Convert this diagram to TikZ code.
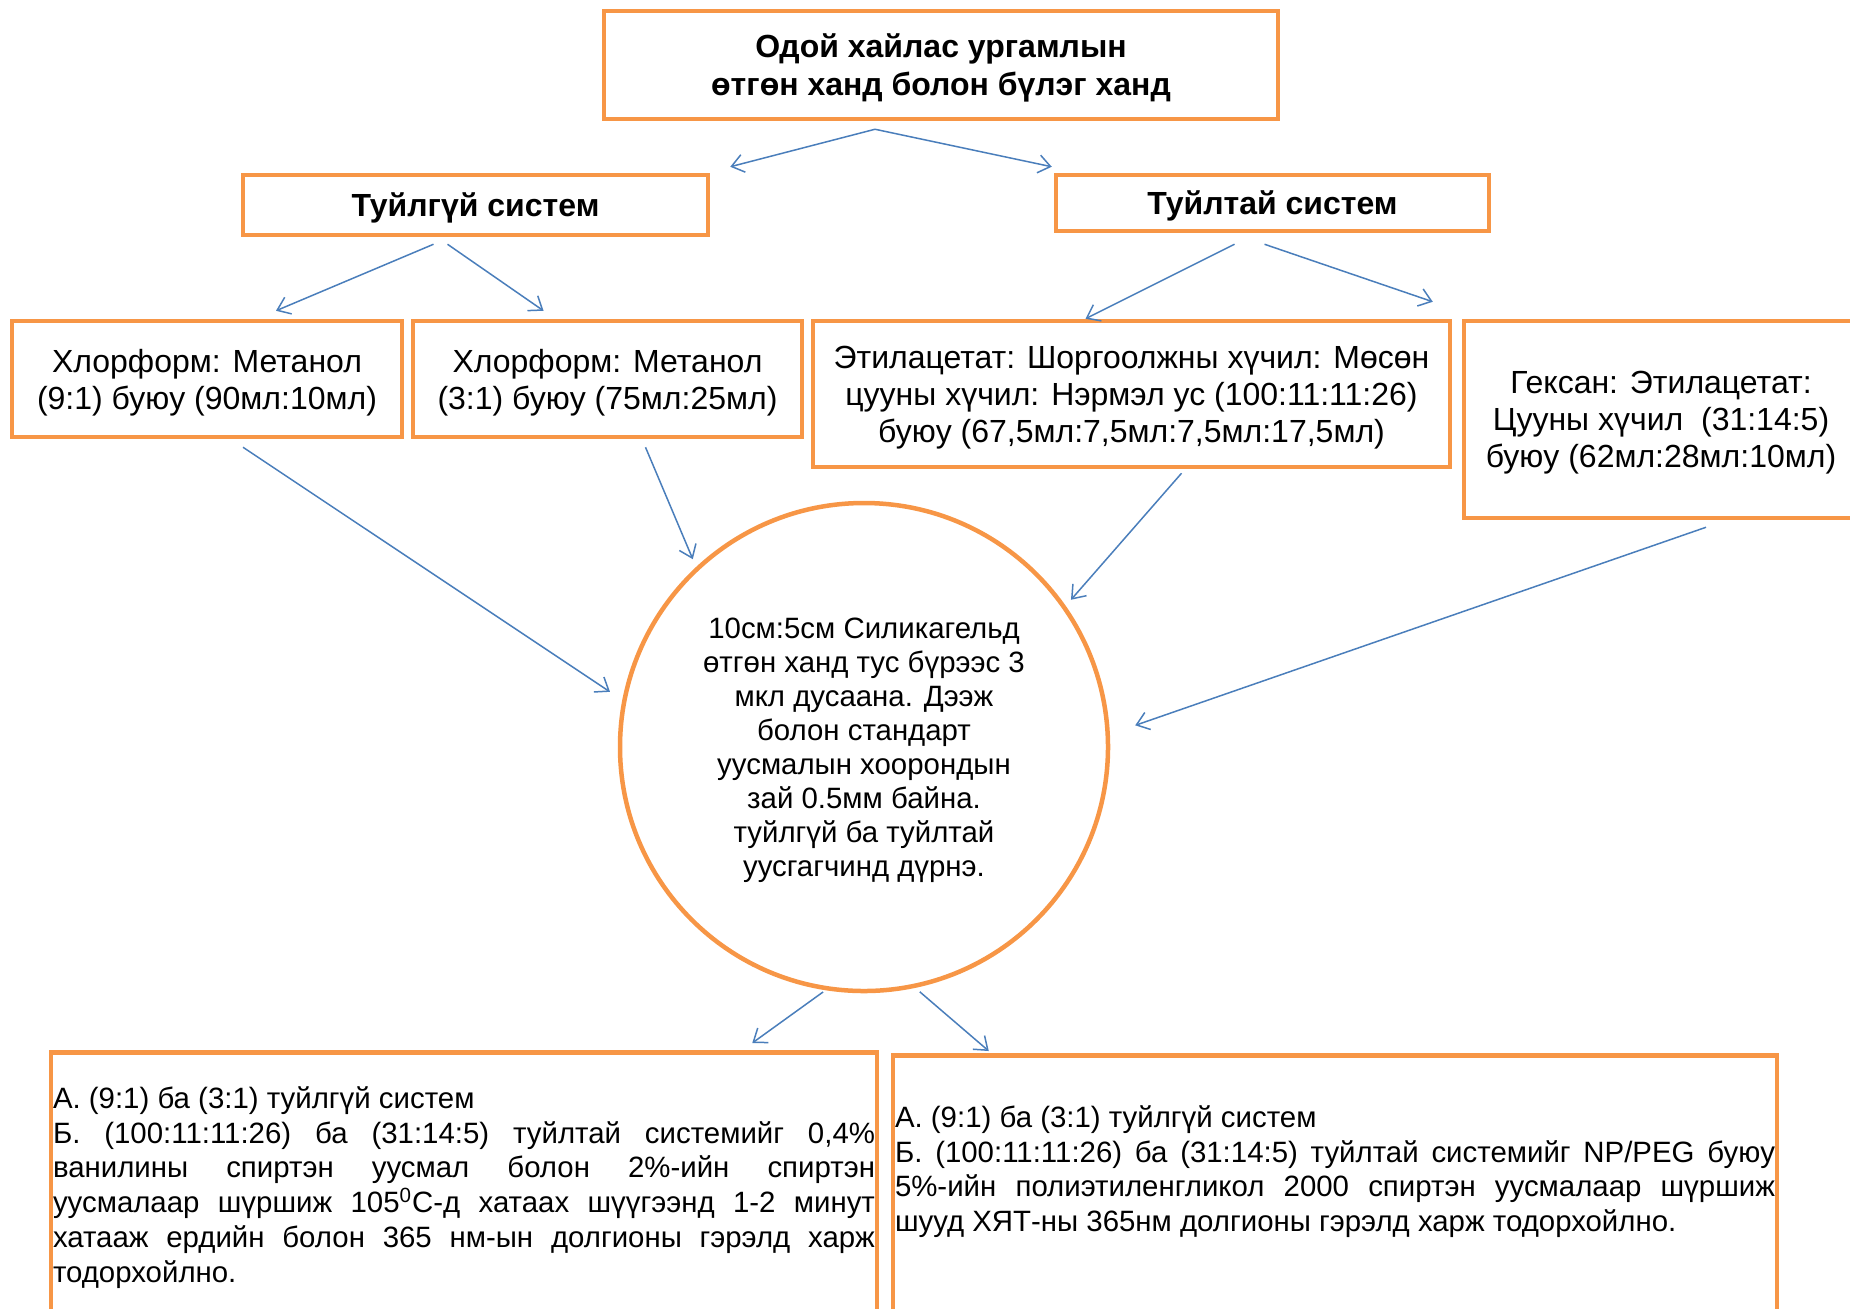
\documentclass[tikz,border=0pt]{standalone}
\usepackage{fontspec}
\setmainfont{Liberation Sans}
\usetikzlibrary{arrows.meta}
\definecolor{boxorange}{HTML}{F79646}
\definecolor{arrowblue}{HTML}{4A7EBB}

\begin{document}
\begin{tikzpicture}[x=.5pt,y=-.5pt,
  obox/.style={draw=boxorange,line width=2.25pt,fill=white,align=center,inner sep=0pt},
  headtxt/.style={font=\fontsize{16pt}{19pt}\selectfont\bfseries},
  boxtxt/.style={font=\fontsize{16pt}{18.5pt}\selectfont,text depth=-2.5pt},
  bodytxt/.style={font=\fontsize{14.7pt}{17.4pt}\selectfont},
  arr/.style={draw=arrowblue,line width=.75pt,-{Straight Barb[length=6pt,width=9pt]}}]
\path[use as bounding box,clip] (0,0) rectangle (1850,1308);
% headings
\node[obox,headtxt,text depth=0pt,minimum width=337pt,minimum height=54pt] (top) at (941,65) {Одой хайлас ургамлын\\өтгөн ханд болон бүлэг ханд};
\node[obox,headtxt,text depth=-1pt,minimum width=232.5pt,minimum height=30pt] (tuilguy) at (475.5,205) {Туйлгүй систем};
\node[obox,headtxt,text depth=-1pt,minimum width=216.5pt,minimum height=28pt] (tuiltai) at (1272.5,203) {Туйлтай систем};
% solvent systems
\node[obox,boxtxt,minimum width=195pt,minimum height=58pt] (chl91) at (207,379) {Хлорформ: Метанол\\(9:1) буюу (90мл:10мл)};
\node[obox,boxtxt,minimum width=194.5pt,minimum height=58pt] (chl31) at (607.5,379) {Хлорформ: Метанол\\(3:1) буюу (75мл:25мл)};
\node[obox,boxtxt,minimum width=318.5pt,minimum height=73pt] (etac) at (1131.5,394) {Этилацетат: Шоргоолжны хүчил: Мөсөн\\цууны хүчил: Нэрмэл ус (100:11:11:26)\\буюу (67,5мл:7,5мл:7,5мл:17,5мл)};
\node[obox,boxtxt,minimum width=197pt,minimum height=98.5pt] (hex) at (1661,419.5) {Гексан: Этилацетат:\\Цууны хүчил\ \ (31:14:5)\\буюу (62мл:28мл:10мл)};
% plate
\node[circle,draw=boxorange,line width=2.25pt,fill=white,align=center,inner sep=0pt,minimum size=244pt,text depth=-2.5pt,font=\fontsize{14.7pt}{17pt}\selectfont] (tlc) at (864,747)
  {10см:5см Силикагельд\\өтгөн ханд тус бүрээс 3\\мкл дусаана. Дээж\\болон стандарт\\уусмалын хоорондын\\зай 0.5мм байна.\\туйлгүй ба туйлтай\\уусгагчинд дүрнэ.};
% detection
\node[obox,bodytxt,anchor=north,text width=411pt,align=justify,inner xsep=1pt,inner ysep=0pt] (bl) at (464,1050)
  {\rule{0pt}{28pt}А. (9:1) ба (3:1) туйлгүй систем\\
   Б. (100:11:11:26) ба (31:14:5) туйлтай системийг 0,4\%\linebreak
   ванилины спиртэн уусмал болон 2\%-ийн спиртэн\linebreak
   уусмалаар шүршиж 105\textsuperscript{0}С-д хатаах шүүгээнд 1-2 минут\linebreak
   хатааж ердийн болон 365 нм-ын долгионы гэрэлд харж\linebreak
   тодорхойлно.\rule[-80pt]{0pt}{0pt}};
\node[obox,bodytxt,anchor=north,text width=440pt,align=justify,inner xsep=1pt,inner ysep=0pt] (br) at (1335,1053)
  {\rule{0pt}{36pt}А. (9:1) ба (3:1) туйлгүй систем\\
   Б. (100:11:11:26) ба (31:14:5) туйлтай системийг NP/PEG буюу\linebreak
   5\%-ийн полиэтиленгликол 2000 спиртэн уусмалаар шүршиж\linebreak
   шууд ХЯТ-ны 365нм долгионы гэрэлд харж тодорхойлно.\rule[-100pt]{0pt}{0pt}};
% connectors
\draw[arr] ([xshift=-33pt,yshift=-4pt]top.south) -- ([xshift=10pt,yshift=3pt]tuilguy.north east);
\draw[arr] ([xshift=-33pt,yshift=-4pt]top.south) -- ([xshift=-1pt,yshift=3pt]tuiltai.north west);
\draw[arr] ([xshift=-21pt,yshift=-3.5pt]tuilguy.south) -- ([xshift=34.5pt,yshift=4pt]chl91.north);
\draw[arr] ([xshift=-14pt,yshift=-3.5pt]tuilguy.south) -- ([xshift=-32pt,yshift=4pt]chl31.north);
\draw[arr] ([xshift=-19pt,yshift=-5.5pt]tuiltai.south) -- ([xshift=-23pt]etac.north);
\draw[arr] ([xshift=-4pt,yshift=-5.5pt]tuiltai.south) -- ([xshift=-14.5pt,yshift=8.5pt]hex.north west);
\draw[arr,shorten >=7.4pt] ([xshift=18pt,yshift=-4pt]chl91.south) -- (tlc.169.4);
\draw[arr,shorten >=4.2pt] ([xshift=19pt,yshift=-4pt]chl31.south) -- (tlc.133.4);
\draw[arr,shorten >=4pt] ([xshift=25pt,yshift=-2pt]etac.south) -- (tlc.35.9);
\draw[arr,shorten >=13.4pt] ([xshift=22.5pt,yshift=-3.5pt]hex.south) -- (tlc.3.6);
\draw[arr,shorten <=1.5pt] (tlc.261) -- ([xshift=-63.5pt,yshift=3.5pt]bl.north east);
\draw[arr,shorten <=3pt] (tlc.282) -- ([xshift=49pt,yshift=1pt]br.north west);
\end{tikzpicture}
\end{document}
